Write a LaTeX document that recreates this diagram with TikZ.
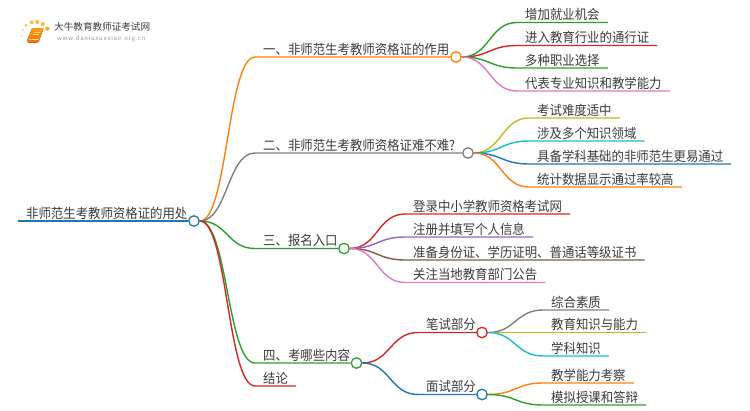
\documentclass[tikz,border=0pt]{standalone}
\usepackage{fontspec}
\setmainfont{Noto Sans CJK SC}
\usepackage{tikz}
\usetikzlibrary{calc}
\pgfdeclarelayer{background}
\pgfsetlayers{background,main}
\definecolor{mapblue}{RGB}{31,119,180}
\definecolor{maporange}{RGB}{255,127,14}
\definecolor{mapgreen}{RGB}{44,160,44}
\definecolor{mapred}{RGB}{214,39,40}
\definecolor{mappurple}{RGB}{148,103,189}
\definecolor{mapbrown}{RGB}{140,86,75}
\definecolor{mappink}{RGB}{227,119,194}
\definecolor{mapgray}{RGB}{127,127,127}
\definecolor{mapolive}{RGB}{188,189,34}
\definecolor{mapcyan}{RGB}{23,190,207}
\definecolor{maptext}{RGB}{60,60,60}
\tikzset{
  topic/.style={anchor=south west,inner xsep=8pt,inner ysep=1pt,text depth=1.5pt,text=maptext,
    yscale=1.08,transform shape,font=\fontsize{12.4}{14}\selectfont},
  knot/.style={circle,draw=#1,fill=white,line width=1.3pt,minimum size=10.5pt,inner sep=0pt},
  link/.style={line width=1.4pt},
  dot/.style={fill=orange!70!yellow,draw=none},
}
\begin{document}
\begin{tikzpicture}[x=1pt,y=-1pt]
  \useasboundingbox (0,0) rectangle (750,410);
  % logo
  \foreach \x/\y/\r/\o in {31.7/22.3/2/.7,37.3/22/2/.8,42.7/24/2/.8,47.3/28.7/2.2/.9,26/25.3/1.6/.6,22.7/30/1.4/.45,21.7/36/1.2/.3,23.3/42/1/.2}
    \fill[dot,opacity=\o] (\x,\y) circle (\r);
  \fill[top color=orange!75!yellow,bottom color=orange!85!red] (32,28.5) -- (43.5,28.5) -- (39,41) -- (37,42.7) -- (29,42.7) -- (27,41) -- cycle;
  \draw[white,line width=0.7pt,opacity=.7] (28.5,39.5) -- (38.5,39.5);
  \draw[white,line width=0.7pt,opacity=.6] (33.5,32) -- (40,32) (33,34.5) -- (39,34.5);
  \node[anchor=west,inner sep=0pt,text=maptext,font=\fontsize{9.6}{11}\selectfont] (logotext) at (54,27) {大牛教育教师证考试网};
  \node[anchor=west,inner sep=0pt,text=mapgray!80,font=\fontsize{6}{7}\selectfont\addfontfeature{LetterSpace=12}] (logourl) at (57,39) {www.daniuxuexiao.org.cn};

  % topics
  \node[topic] (root) at (18,221) {非师范生考教师资格证的用处};
  \node[topic] (one) at (255,57) {一、非师范生考教师资格证的作用};
  \node[topic] (two) at (255,153) {二、非师范生考教师资格证难不难?};
  \node[topic] (three) at (255,248.5) {三、报名入口};
  \node[topic] (four) at (255,363) {四、考哪些内容};
  \node[topic] (end) at (255,386) {结论};
  \node[topic] (written) at (418,332.5) {笔试部分};
  \node[topic] (oral) at (418,394.5) {面试部分};

  \node[topic] (a1) at (517,22.5) {增加就业机会};
  \node[topic] (a2) at (517,45.5) {进入教育行业的通行证};
  \node[topic] (a3) at (517,68) {多种职业选择};
  \node[topic] (a4) at (517,91) {代表专业知识和教学能力};

  \node[topic] (b1) at (529,118) {考试难度适中};
  \node[topic] (b2) at (529,141) {涉及多个知识领域};
  \node[topic] (b3) at (529,164) {具备学科基础的非师范生更易通过};
  \node[topic] (b4) at (529,187) {统计数据显示通过率较高};

  \node[topic] (c1) at (405,214) {登录中小学教师资格考试网};
  \node[topic] (c2) at (405,237) {注册并填写个人信息};
  \node[topic] (c3) at (405,260) {准备身份证、学历证明、普通话等级证书};
  \node[topic] (c4) at (405,282.5) {关注当地教育部门公告};

  \node[topic] (d1) at (543,310) {综合素质};
  \node[topic] (d2) at (543,332.5) {教育知识与能力};
  \node[topic] (d3) at (543,356) {学科知识};
  \node[topic] (e1) at (543,383) {教学能力考察};
  \node[topic] (e2) at (543,405) {模拟授课和答辩};

  % knots
  \node[knot=mapblue] (rootknot) at (194,221) {};
  \node[knot=maporange] (oneknot) at (456,57) {};
  \node[knot=mapgray] (twoknot) at (468,153) {};
  \node[knot=mapgreen] (threeknot) at (344,248.5) {};
  \node[knot=mapgreen] (fourknot) at (356.5,363) {};
  \node[knot=mapred] (writtenknot) at (482,332.5) {};
  \node[knot=mapblue] (oralknot) at (482,394.5) {};

  % connectors
  \begin{pgfonlayer}{background}
  \draw[link,mapblue] (root.south west) -- (rootknot.west);
  \foreach \from/\to/\col/\knot in {
      rootknot/one/maporange/oneknot,rootknot/two/mapgray/twoknot,
      rootknot/three/mapgreen/threeknot,rootknot/four/mapgreen/fourknot,
      fourknot/written/mapred/writtenknot,fourknot/oral/mapblue/oralknot}
    \draw[link,\col] (\from.east) .. controls ($(\from.east)!.5!(\from.east-|\to.south west)$) and ($(\to.south west)!.5!(\to.south west-|\from.east)$) .. (\to.south west) -- (\knot.west);
  \draw[link,mapred] (rootknot.east) .. controls ($(rootknot.east)!.5!(rootknot.east-|end.south west)$) and ($(end.south west)!.5!(end.south west-|rootknot.east)$) .. (end.south west) -- (end.south east);
  \foreach \from/\to/\col in {
      oneknot/a1/mapgreen,oneknot/a2/mapred,oneknot/a3/mapgreen,oneknot/a4/mappink,
      twoknot/b1/mapolive,twoknot/b2/mapcyan,twoknot/b3/mapblue,twoknot/b4/maporange,
      threeknot/c1/mapred,threeknot/c2/mappurple,threeknot/c3/mapbrown,threeknot/c4/mappink,
      writtenknot/d1/mapgray,writtenknot/d2/mapolive,writtenknot/d3/mapcyan,
      oralknot/e1/maporange,oralknot/e2/mapgreen}
    \draw[link,\col] (\from.east) .. controls ($(\from.east)!.5!(\from.east-|\to.south west)$) and ($(\to.south west)!.5!(\to.south west-|\from.east)$) .. (\to.south west) -- (\to.south east);
  \end{pgfonlayer}
\end{tikzpicture}
\end{document}
